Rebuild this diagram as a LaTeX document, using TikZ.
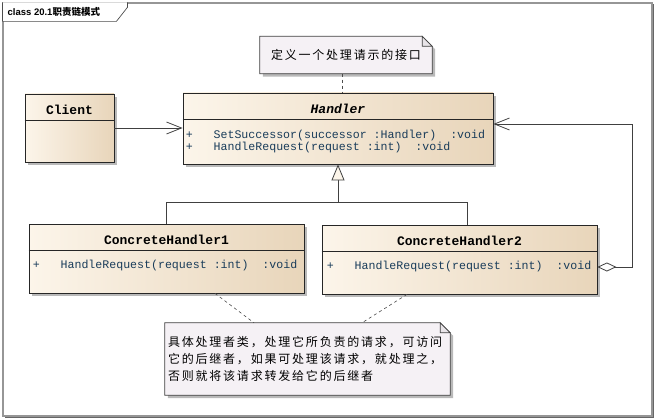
\documentclass[tikz,border=0pt]{standalone}
\usepackage{fontspec}
\setmainfont{Liberation Sans}
\setmonofont{Liberation Mono}
\newfontfamily\cjk{Noto Sans CJK SC}
\newfontfamily\cjknote[LetterSpace=15]{Noto Sans CJK SC}
\usepackage{tikz}
\usetikzlibrary{arrows.meta,positioning,shadows,backgrounds}
\usepackage{xcolor}
\definecolor{clsL}{RGB}{252,245,234}
\definecolor{clsR}{RGB}{232,213,186}
\definecolor{notefill}{RGB}{245,241,245}
\definecolor{notefold}{RGB}{232,228,232}
\definecolor{optext}{RGB}{25,60,90}
\definecolor{framegray}{RGB}{150,150,150}

\begin{document}
\begin{tikzpicture}[x=1pt,y=-1pt,
  cls/.style={draw=black!85,line width=0.8pt,left color=clsL,right color=clsR,inner sep=0pt,
    drop shadow={shadow xshift=3pt,shadow yshift=-3pt,fill=gray!55,opacity=1}},
  clsname/.style={font=\ttfamily\bfseries\fontsize{13}{14}\selectfont,inner sep=0pt},
  op/.style={font=\ttfamily\fontsize{11.6}{12}\selectfont,text=optext,inner sep=0pt,align=left,anchor=west},
  note/.style={inner sep=0pt,align=left},
  notebox/.style={draw=black!75,line width=0.7pt,fill=notefill},
  conn/.style={draw=black!75,line width=0.8pt},
  assoc/.style={conn,-{Straight Barb[length=15pt,width=12pt]}},
  inh/.style={conn,-{Triangle[length=16pt,width=13pt,fill=clsL]}},
  aggr/.style={conn,{Diamond[length=19pt,width=9pt,fill=white]}-{Straight Barb[length=15pt,width=12pt]}},
  notelink/.style={draw=black!70,line width=0.6pt,dash pattern=on 3pt off 3pt}
]
\useasboundingbox (0,0) rectangle (657,420);
\begin{scope}[on background layer]
\node[draw=framegray,line width=1.2pt,fill=white,minimum width=649pt,minimum height=413pt,inner sep=0pt,
  drop shadow={shadow xshift=1.5pt,shadow yshift=-1.5pt,fill=black!60,opacity=1}] (frame) at (327.5,209.5) {};
\draw[draw=black!70,line width=0.7pt,fill=white] (frame.north west) -- ([yshift=-19pt]frame.north west)
  -- ++(114pt,0pt) -- ([xshift=125pt,yshift=-5pt]frame.north west) -- ([xshift=125pt]frame.north west);
\end{scope}
\node[anchor=west,inner sep=0pt,font=\bfseries\fontsize{9.5}{10}\selectfont] (title)
  at ([xshift=5pt,yshift=-10pt]frame.north west) {class 20.1{\cjk\bfseries 职责链模式}};

\node[cls,minimum width=89pt,minimum height=68pt] (client) at (69.5,128) {};
\node[cls,minimum width=310pt,minimum height=71pt] (handler) at (338,128.5) {};
\node[cls,minimum width=275pt,minimum height=69pt] (ch1) at (166.5,258.5) {};
\node[cls,minimum width=275pt,minimum height=69pt] (ch2) at (459.5,259.5) {};
\foreach \c in {client,handler,ch1,ch2}
  \draw[black!85,line width=0.8pt] ([yshift=-27pt]\c.north west) -- ([yshift=-27pt]\c.north east);

\node[clsname] (clientname) at ([yshift=-16pt]client.north) {Client};
\node[clsname,font=\ttfamily\bfseries\itshape\fontsize{13}{14}\selectfont] (handlername)
  at ([yshift=-16.5pt]handler.north) {Handler};
\node[clsname] (ch1name) at ([yshift=-16.5pt]ch1.north) {ConcreteHandler1};
\node[clsname] (ch2name) at ([yshift=-16.5pt]ch2.north) {ConcreteHandler2};

\node[op] (handlerops) at ([xshift=3pt,yshift=-49pt]handler.north west)
  {+~~~SetSuccessor(successor~:Handler)~~:void\\+~~~HandleRequest(request~:int)~~:void};
\node[op] (ch1op) at ([xshift=4pt,yshift=-42pt]ch1.north west) {+~~~HandleRequest(request~:int)~~:void};
\node[op] (ch2op) at ([xshift=5pt,yshift=-42pt]ch2.north west) {+~~~HandleRequest(request~:int)~~:void};

\node[note,minimum width=172pt,minimum height=37pt,font=\fontsize{12}{17}\cjknote] (note1)
  at (346,55) {定义一个处理请示的接口};
\node[note,minimum width=285pt,minimum height=72pt,text width=279pt,font=\fontsize{12}{17}\cjknote] (note2)
  at (307.5,359) {具体处理者类，处理它所负责的请求，可访问\\它的后继者，如果可处理该请求，就处理之，\\否则就将该请求转发给它的后继者};
\begin{scope}[on background layer]
\foreach \n in {note1,note2}{
  \fill[gray!55] ([shift={(3pt,-3pt)}]\n.south west) -- ([shift={(3pt,-3pt)}]\n.north west)
    -- ([shift={(-7pt,-3pt)}]\n.north east) -- ([shift={(3pt,-13pt)}]\n.north east)
    -- ([shift={(3pt,-3pt)}]\n.south east) -- cycle;
  \filldraw[notebox] (\n.south west) -- (\n.north west) -- ([xshift=-10pt]\n.north east)
    -- ([yshift=-10pt]\n.north east) -- (\n.south east) -- cycle;
  \filldraw[notebox,fill=notefold] ([xshift=-10pt]\n.north east) -- ([shift={(-10pt,-10pt)}]\n.north east)
    -- ([yshift=-10pt]\n.north east) -- cycle;
}
\end{scope}

\draw[assoc] (client.east) -- (client.east -| handler.west);
\coordinate (genjoin) at ([yshift=-38pt]handler.south);
\draw[inh] (ch1.north) |- (genjoin) -- (handler.south);
\draw[conn] ([xshift=7.5pt]ch2.north) |- (genjoin);
\coordinate (aggbend) at (632,124);
\draw[aggr] ([yshift=-7.5pt]ch2.east) -| (aggbend) -- (aggbend -| handler.east);

\draw[notelink] ([xshift=-4pt]note1.south) -- ([xshift=-4pt]note1.south |- handler.north);
\draw[notelink] ([xshift=48.5pt]ch1.south) -- ([xshift=-53.5pt]note2.north);
\draw[notelink] ([xshift=-52.5pt]ch2.south) -- ([xshift=54.5pt]note2.north);
\end{tikzpicture}
\end{document}
